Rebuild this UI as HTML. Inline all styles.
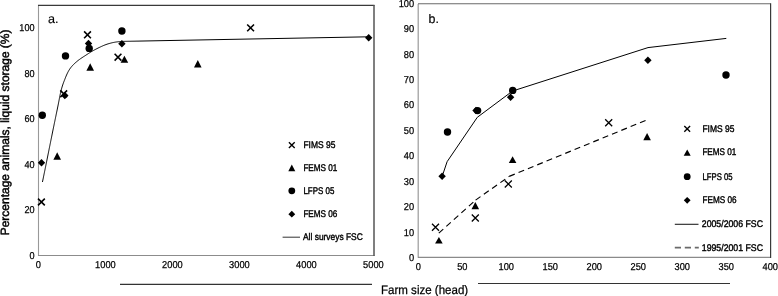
<!DOCTYPE html><html><head><meta charset="utf-8"><style>html,body{margin:0;padding:0;background:#fff;}svg{display:block;will-change:transform;text-rendering:geometricPrecision}</style></head><body>
<svg width="778" height="296" viewBox="0 0 778 296" font-family='"Liberation Sans", sans-serif' fill="#000">
<line x1="38.5" y1="5" x2="38.5" y2="256" stroke="#999" stroke-width="1.1"/>
<line x1="38" y1="255.5" x2="374.5" y2="255.5" stroke="#8c8c8c" stroke-width="1.1"/>
<line x1="38" y1="5.4" x2="374.5" y2="5.4" stroke="#3a3a3a" stroke-width="1.2"/>
<line x1="374" y1="5" x2="374" y2="256" stroke="#555" stroke-width="1.5"/>
<text x="34.5" y="259.03" font-size="10" text-anchor="end" textLength="5.05" lengthAdjust="spacingAndGlyphs" stroke="#000" stroke-width="0.25">0</text>
<text x="34.5" y="213.47" font-size="10" text-anchor="end" textLength="10.1" lengthAdjust="spacingAndGlyphs" stroke="#000" stroke-width="0.25">20</text>
<text x="34.5" y="167.91" font-size="10" text-anchor="end" textLength="10.1" lengthAdjust="spacingAndGlyphs" stroke="#000" stroke-width="0.25">40</text>
<text x="34.5" y="122.34999999999998" font-size="10" text-anchor="end" textLength="10.1" lengthAdjust="spacingAndGlyphs" stroke="#000" stroke-width="0.25">60</text>
<text x="34.5" y="76.78999999999998" font-size="10" text-anchor="end" textLength="10.1" lengthAdjust="spacingAndGlyphs" stroke="#000" stroke-width="0.25">80</text>
<text x="34.5" y="31.229999999999976" font-size="10" text-anchor="end" textLength="15.149999999999999" lengthAdjust="spacingAndGlyphs" stroke="#000" stroke-width="0.25">100</text>
<text x="38.4" y="267.8" font-size="10" text-anchor="middle" textLength="5.15" lengthAdjust="spacingAndGlyphs" stroke="#000" stroke-width="0.25">0</text>
<text x="105.4" y="267.8" font-size="10" text-anchor="middle" textLength="20.6" lengthAdjust="spacingAndGlyphs" stroke="#000" stroke-width="0.25">1000</text>
<text x="172.4" y="267.8" font-size="10" text-anchor="middle" textLength="20.6" lengthAdjust="spacingAndGlyphs" stroke="#000" stroke-width="0.25">2000</text>
<text x="239.4" y="267.8" font-size="10" text-anchor="middle" textLength="20.6" lengthAdjust="spacingAndGlyphs" stroke="#000" stroke-width="0.25">3000</text>
<text x="306.4" y="267.8" font-size="10" text-anchor="middle" textLength="20.6" lengthAdjust="spacingAndGlyphs" stroke="#000" stroke-width="0.25">4000</text>
<text x="373.4" y="267.8" font-size="10" text-anchor="middle" textLength="20.6" lengthAdjust="spacingAndGlyphs" stroke="#000" stroke-width="0.25">5000</text>
<text transform="translate(8.9,132.4) rotate(-90)" x="0" y="0" font-size="12" text-anchor="middle" textLength="205.8" lengthAdjust="spacingAndGlyphs" stroke="#000" stroke-width="0.45">Percentage animals, liquid storage (%)</text>
<text x="48.0" y="22.8" font-size="12.6" text-anchor="start" stroke="#000" stroke-width="0.15">a.</text>
<path d="M42.45,182.00 L42.65,181.04 L42.85,180.08 L43.05,179.12 L43.25,178.16 L43.44,177.20 L43.64,176.24 L43.84,175.28 L44.03,174.32 L44.23,173.36 L44.43,172.39 L44.62,171.43 L44.82,170.47 L45.01,169.51 L45.21,168.55 L45.40,167.59 L45.60,166.63 L45.79,165.67 L45.99,164.71 L46.18,163.75 L46.38,162.78 L46.57,161.82 L46.77,160.86 L46.96,159.90 L47.15,158.94 L47.35,157.98 L47.54,157.02 L47.74,156.06 L47.93,155.09 L48.12,154.13 L48.32,153.17 L48.51,152.21 L48.70,151.25 L48.90,150.29 L49.09,149.33 L49.28,148.36 L49.48,147.40 L49.67,146.44 L49.87,145.48 L50.06,144.52 L50.25,143.56 L50.45,142.60 L50.64,141.64 L50.83,140.67 L51.03,139.71 L51.22,138.75 L51.42,137.79 L51.61,136.83 L51.81,135.87 L52.00,134.91 L52.20,133.95 L52.39,132.99 L52.59,132.02 L52.78,131.06 L52.98,130.10 L53.17,129.14 L53.37,128.18 L53.57,127.22 L53.76,126.26 L53.96,125.30 L54.16,124.34 L54.35,123.38 L54.55,122.42 L54.75,121.46 L54.95,120.50 L55.15,119.54 L55.35,118.58 L55.54,117.62 L55.74,116.66 L55.94,115.70 L56.14,114.74 L56.34,113.77 L56.54,112.81 L56.74,111.85 L56.94,110.89 L57.13,109.93 L57.33,108.97 L57.52,108.01 L57.72,107.05 L57.91,106.09 L58.11,105.13 L58.30,104.17 L58.49,103.20 L58.68,102.24 L58.87,101.28 L59.05,100.32 L59.24,99.35 L59.42,98.39 L59.61,97.43 L59.80,96.47 L59.99,95.50 L60.18,94.54 L60.39,93.58 L60.60,92.63 L60.82,91.67 L61.05,90.72 L61.29,89.76 L61.54,88.82 L61.81,87.87 L62.08,86.93 L62.37,85.99 L62.68,85.06 L62.99,84.13 L63.32,83.21 L63.66,82.29 L64.01,81.37 L64.37,80.46 L64.72,79.54 L65.08,78.63 L65.44,77.72 L65.81,76.81 L66.18,75.90 L66.57,75.00 L66.97,74.11 L67.39,73.22 L67.83,72.34 L68.29,71.47 L68.77,70.62 L69.28,69.78 L69.82,68.96 L70.39,68.15 L70.98,67.37 L71.60,66.62 L72.25,65.88 L72.92,65.16 L73.60,64.46 L74.31,63.77 L75.03,63.10 L75.76,62.44 L76.50,61.80 L77.25,61.17 L78.01,60.55 L78.79,59.95 L79.58,59.37 L80.38,58.80 L81.18,58.25 L82.00,57.70 L82.82,57.17 L83.64,56.63 L84.47,56.10 L85.29,55.57 L86.12,55.03 L86.94,54.50 L87.76,53.96 L88.58,53.42 L89.41,52.89 L90.24,52.37 L91.07,51.86 L91.91,51.36 L92.76,50.87 L93.62,50.39 L94.48,49.92 L95.34,49.46 L96.21,49.01 L97.09,48.56 L97.96,48.12 L98.84,47.68 L99.73,47.25 L100.61,46.83 L101.50,46.42 L102.40,46.02 L103.30,45.63 L104.20,45.26 L105.12,44.90 L106.04,44.56 L106.96,44.23 L107.90,43.93 L108.83,43.64 L109.78,43.36 L110.72,43.11 L111.68,42.87 L112.63,42.65 L113.59,42.45 L114.56,42.27 L115.52,42.10 L116.49,41.96 L117.47,41.83 L118.44,41.72 L119.42,41.62 L120.39,41.54 L121.37,41.48 L122.35,41.43 L123.33,41.39 L124.31,41.36 L125.29,41.34 L126.27,41.32 L127.25,41.30 L128.23,41.28 L129.22,41.27 L130.20,41.25 L131.18,41.23 L132.16,41.21 L133.14,41.20 L134.12,41.18 L135.10,41.16 L136.08,41.14 L137.06,41.12 L138.04,41.11 L139.02,41.09 L140.00,41.07 L368.7,36.80" stroke="#000" stroke-width="1.0" fill="none" stroke-linejoin="round"/>
<path d="M38.0,198.6L44.8,205.4M44.8,198.6L38.0,205.4" stroke="#000" stroke-width="1.6" fill="none"/>
<path d="M60.300000000000004,90.39999999999999L67.10000000000001,97.2M67.10000000000001,90.39999999999999L60.300000000000004,97.2" stroke="#000" stroke-width="1.6" fill="none"/>
<path d="M84.1,31.4L90.9,38.199999999999996M90.9,31.4L84.1,38.199999999999996" stroke="#000" stroke-width="1.6" fill="none"/>
<path d="M114.6,53.800000000000004L121.4,60.6M121.4,53.800000000000004L114.6,60.6" stroke="#000" stroke-width="1.6" fill="none"/>
<path d="M247.2,24.5L254.0,31.299999999999997M254.0,24.5L247.2,31.299999999999997" stroke="#000" stroke-width="1.6" fill="none"/>
<path d="M57.2,152.3L61.0,159.7L53.400000000000006,159.7Z" fill="#000"/>
<path d="M90.2,63.3L94.0,70.7L86.4,70.7Z" fill="#000"/>
<path d="M124.4,55.8L128.20000000000002,62.8L120.60000000000001,62.8Z" fill="#000"/>
<path d="M197.8,59.9L201.60000000000002,67.6L194.0,67.6Z" fill="#000"/>
<circle cx="42.3" cy="115.2" r="3.7" fill="#000"/>
<circle cx="65.5" cy="55.9" r="3.7" fill="#000"/>
<circle cx="89.2" cy="48.4" r="3.7" fill="#000"/>
<circle cx="121.9" cy="31" r="3.7" fill="#000"/>
<path d="M41.5,159.10000000000002L45.2,162.8L41.5,166.5L37.8,162.8Z" fill="#000"/>
<path d="M64.8,91.8L68.5,95.5L64.8,99.2L61.099999999999994,95.5Z" fill="#000"/>
<path d="M88.5,39.8L92.2,43.5L88.5,47.2L84.8,43.5Z" fill="#000"/>
<path d="M121.9,40.0L125.60000000000001,43.7L121.9,47.400000000000006L118.2,43.7Z" fill="#000"/>
<path d="M368.7,34.0L372.4,37.7L368.7,41.400000000000006L365.0,37.7Z" fill="#000"/>
<path d="M288.90000000000003,142.2L294.7,148.0M294.7,142.2L288.90000000000003,148.0" stroke="#000" stroke-width="1.35" fill="none"/>
<text x="303.4" y="148.1" font-size="9.7" text-anchor="start" textLength="32" lengthAdjust="spacingAndGlyphs" stroke="#000" stroke-width="0.4">FIMS 95</text>
<path d="M291.8,164.6L295.3,171.2L288.3,171.2Z" fill="#000"/>
<text x="303.4" y="171.1" font-size="9.7" text-anchor="start" textLength="34" lengthAdjust="spacingAndGlyphs" stroke="#000" stroke-width="0.4">FEMS 01</text>
<circle cx="291.8" cy="190.8" r="3.4" fill="#000"/>
<text x="303.4" y="193.9" font-size="9.7" text-anchor="start" textLength="31" lengthAdjust="spacingAndGlyphs" stroke="#000" stroke-width="0.4">LFPS 05</text>
<path d="M291.8,210.79999999999998L295.2,214.2L291.8,217.6L288.40000000000003,214.2Z" fill="#000"/>
<text x="303.4" y="217.2" font-size="9.7" text-anchor="start" textLength="34" lengthAdjust="spacingAndGlyphs" stroke="#000" stroke-width="0.4">FEMS 06</text>
<line x1="282.6" y1="237.2" x2="300" y2="237.2" stroke="#333" stroke-width="1"/>
<text x="303" y="240.2" font-size="9.7" text-anchor="start" textLength="59.8" lengthAdjust="spacingAndGlyphs" stroke="#000" stroke-width="0.4">All surveys FSC</text>
<line x1="418.2" y1="4" x2="418.2" y2="257.8" stroke="#9a9a9a" stroke-width="1.2"/>
<line x1="418" y1="257.4" x2="770.5" y2="257.4" stroke="#8a8a8a" stroke-width="1.2"/>
<line x1="418" y1="3.7" x2="770.5" y2="3.7" stroke="#6a6a6a" stroke-width="1.1"/>
<line x1="770.6" y1="3.2" x2="770.6" y2="258" stroke="#3a3a3a" stroke-width="1.2"/>
<text x="414.1" y="260.93" font-size="10" text-anchor="end" textLength="5.15" lengthAdjust="spacingAndGlyphs" stroke="#000" stroke-width="0.25">0</text>
<text x="414.1" y="235.52400000000003" font-size="10" text-anchor="end" textLength="10.3" lengthAdjust="spacingAndGlyphs" stroke="#000" stroke-width="0.25">10</text>
<text x="414.1" y="210.11800000000002" font-size="10" text-anchor="end" textLength="10.3" lengthAdjust="spacingAndGlyphs" stroke="#000" stroke-width="0.25">20</text>
<text x="414.1" y="184.71200000000002" font-size="10" text-anchor="end" textLength="10.3" lengthAdjust="spacingAndGlyphs" stroke="#000" stroke-width="0.25">30</text>
<text x="414.1" y="159.30600000000004" font-size="10" text-anchor="end" textLength="10.3" lengthAdjust="spacingAndGlyphs" stroke="#000" stroke-width="0.25">40</text>
<text x="414.1" y="133.90000000000003" font-size="10" text-anchor="end" textLength="10.3" lengthAdjust="spacingAndGlyphs" stroke="#000" stroke-width="0.25">50</text>
<text x="414.1" y="108.49400000000001" font-size="10" text-anchor="end" textLength="10.3" lengthAdjust="spacingAndGlyphs" stroke="#000" stroke-width="0.25">60</text>
<text x="414.1" y="83.08800000000004" font-size="10" text-anchor="end" textLength="10.3" lengthAdjust="spacingAndGlyphs" stroke="#000" stroke-width="0.25">70</text>
<text x="414.1" y="57.68200000000003" font-size="10" text-anchor="end" textLength="10.3" lengthAdjust="spacingAndGlyphs" stroke="#000" stroke-width="0.25">80</text>
<text x="414.1" y="32.276000000000025" font-size="10" text-anchor="end" textLength="10.3" lengthAdjust="spacingAndGlyphs" stroke="#000" stroke-width="0.25">90</text>
<text x="414.1" y="6.8700000000000205" font-size="10" text-anchor="end" textLength="15.450000000000001" lengthAdjust="spacingAndGlyphs" stroke="#000" stroke-width="0.25">100</text>
<text x="418.3" y="269.9" font-size="10" text-anchor="middle" textLength="5.15" lengthAdjust="spacingAndGlyphs" stroke="#000" stroke-width="0.25">0</text>
<text x="462.3" y="269.9" font-size="10" text-anchor="middle" textLength="10.3" lengthAdjust="spacingAndGlyphs" stroke="#000" stroke-width="0.25">50</text>
<text x="506.3" y="269.9" font-size="10" text-anchor="middle" textLength="15.450000000000001" lengthAdjust="spacingAndGlyphs" stroke="#000" stroke-width="0.25">100</text>
<text x="550.3" y="269.9" font-size="10" text-anchor="middle" textLength="15.450000000000001" lengthAdjust="spacingAndGlyphs" stroke="#000" stroke-width="0.25">150</text>
<text x="594.3" y="269.9" font-size="10" text-anchor="middle" textLength="15.450000000000001" lengthAdjust="spacingAndGlyphs" stroke="#000" stroke-width="0.25">200</text>
<text x="638.3" y="269.9" font-size="10" text-anchor="middle" textLength="15.450000000000001" lengthAdjust="spacingAndGlyphs" stroke="#000" stroke-width="0.25">250</text>
<text x="682.3" y="269.9" font-size="10" text-anchor="middle" textLength="15.450000000000001" lengthAdjust="spacingAndGlyphs" stroke="#000" stroke-width="0.25">300</text>
<text x="726.3" y="269.9" font-size="10" text-anchor="middle" textLength="15.450000000000001" lengthAdjust="spacingAndGlyphs" stroke="#000" stroke-width="0.25">350</text>
<text x="770.3" y="269.9" font-size="10" text-anchor="middle" textLength="15.450000000000001" lengthAdjust="spacingAndGlyphs" stroke="#000" stroke-width="0.25">400</text>
<text x="428.6" y="22.6" font-size="12.4" text-anchor="start" stroke="#000" stroke-width="0.2">b.</text>
<path d="M442.3,176L447.1,161.7L477.3,117.3L512.6,91L648,47.6L726.3,38.4" stroke="#000" stroke-width="1.0" fill="none" stroke-linejoin="round"/>
<path d="M438.8,233.1L475.6,200.1" stroke="#000" stroke-width="1.15" fill="none" stroke-dasharray="6 4.1"/>
<path d="M475.6,200.1L509.2,176.4" stroke="#000" stroke-width="1.15" fill="none" stroke-dasharray="6 4.1"/>
<path d="M509.2,176.4L647.1,119.8" stroke="#000" stroke-width="1.15" fill="none" stroke-dasharray="6 4.1"/>
<path d="M432.0,223.7L439.0,230.7M439.0,223.7L432.0,230.7" stroke="#000" stroke-width="1.3" fill="none"/>
<path d="M471.8,214.5L478.8,221.5M478.8,214.5L471.8,221.5" stroke="#000" stroke-width="1.3" fill="none"/>
<path d="M504.8,180.5L511.8,187.5M511.8,180.5L504.8,187.5" stroke="#000" stroke-width="1.3" fill="none"/>
<path d="M605.2,119.3L612.2,126.3M612.2,119.3L605.2,126.3" stroke="#000" stroke-width="1.3" fill="none"/>
<path d="M438.9,236.9L442.7,243.6L435.09999999999997,243.6Z" fill="#000"/>
<path d="M475.3,202L479.1,209.2L471.5,209.2Z" fill="#000"/>
<path d="M512.6,156.3L516.4,163.1L508.8,163.1Z" fill="#000"/>
<path d="M647.1,133L650.9,140.2L643.3000000000001,140.2Z" fill="#000"/>
<circle cx="447.5" cy="132" r="3.7" fill="#000"/>
<circle cx="477.6" cy="110.6" r="3.7" fill="#000"/>
<circle cx="512.7" cy="90.4" r="3.7" fill="#000"/>
<circle cx="726" cy="75" r="3.7" fill="#000"/>
<path d="M442.1,172.60000000000002L445.8,176.3L442.1,180.0L438.40000000000003,176.3Z" fill="#000"/>
<path d="M476,106.8L479.7,110.5L476,114.2L472.3,110.5Z" fill="#000"/>
<path d="M510.6,93.5L514.3000000000001,97.2L510.6,100.9L506.90000000000003,97.2Z" fill="#000"/>
<path d="M647.9,56.599999999999994L651.6,60.3L647.9,64.0L644.1999999999999,60.3Z" fill="#000"/>
<path d="M684.3000000000001,126.0L690.1,131.8M690.1,126.0L684.3000000000001,131.8" stroke="#000" stroke-width="1.35" fill="none"/>
<text x="702.4" y="131.7" font-size="9.7" text-anchor="start" textLength="32" lengthAdjust="spacingAndGlyphs" stroke="#000" stroke-width="0.4">FIMS 95</text>
<path d="M687.2,149.5L690.7,155.8L683.7,155.8Z" fill="#000"/>
<text x="702.4" y="155.3" font-size="9.7" text-anchor="start" textLength="34" lengthAdjust="spacingAndGlyphs" stroke="#000" stroke-width="0.4">FEMS 01</text>
<circle cx="687.2" cy="176.7" r="3.4" fill="#000"/>
<text x="702.5" y="179.5" font-size="9.7" text-anchor="start" textLength="30" lengthAdjust="spacingAndGlyphs" stroke="#000" stroke-width="0.4">LFPS 05</text>
<path d="M687.2,196.9L690.6,200.3L687.2,203.70000000000002L683.8000000000001,200.3Z" fill="#000"/>
<text x="702.5" y="203.1" font-size="9.7" text-anchor="start" textLength="34" lengthAdjust="spacingAndGlyphs" stroke="#000" stroke-width="0.4">FEMS 06</text>
<line x1="674.8" y1="224.3" x2="698.5" y2="224.3" stroke="#222" stroke-width="1.1"/>
<text x="701.8" y="226.9" font-size="9.7" text-anchor="start" textLength="61.2" lengthAdjust="spacingAndGlyphs" stroke="#000" stroke-width="0.4">2005/2006 FSC</text>
<line x1="674.8" y1="247.6" x2="698.8" y2="247.6" stroke="#6a6a6a" stroke-width="1.8" stroke-dasharray="6.2 3.8"/>
<text x="701.8" y="251.3" font-size="9.7" text-anchor="start" textLength="61.2" lengthAdjust="spacingAndGlyphs" stroke="#000" stroke-width="0.4">1995/2001 FSC</text>
<line x1="120" y1="284.4" x2="372" y2="284.4" stroke="#333" stroke-width="1.2"/>
<line x1="478" y1="283.5" x2="730" y2="283.5" stroke="#333" stroke-width="1.2"/>
<text x="381.0" y="293.6" font-size="12.3" text-anchor="start" textLength="87.2" lengthAdjust="spacingAndGlyphs" stroke="#000" stroke-width="0.25">Farm size (head)</text>
</svg></body></html>
